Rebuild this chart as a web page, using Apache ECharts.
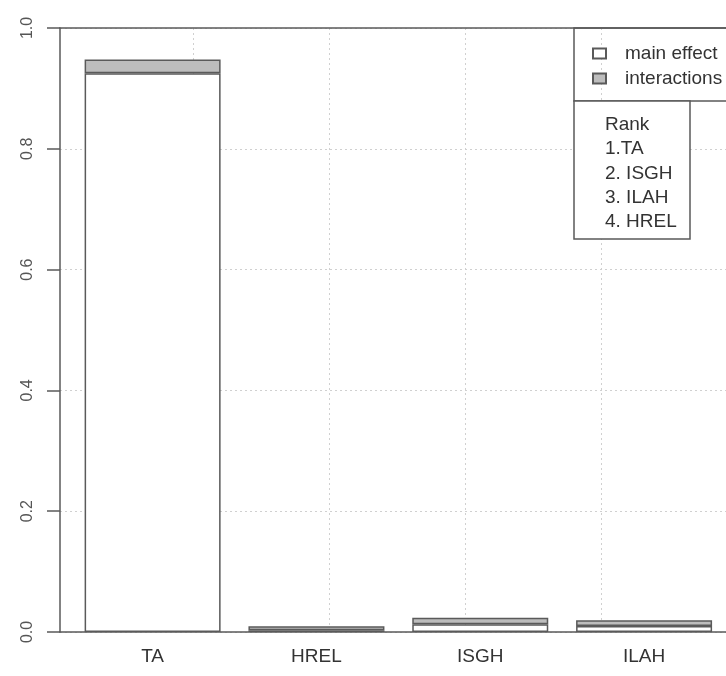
<!DOCTYPE html>
<html>
<head>
<meta charset="utf-8">
<script src="https://cdn.jsdelivr.net/npm/echarts@6/dist/echarts.min.js"></script>
<style>html,body{margin:0;padding:0;background:#fff}#c{width:726px;height:676px}</style>
</head>
<body>
<div id="c"></div>
<script>
const categories = ['TA', 'HREL', 'ISGH', 'ILAH'];
const mainEffect = [0.925, 0.003, 0.013, 0.010];
const interactions = [0.023, 0.0065, 0.0107, 0.0094];
const yTicks = [0, 0.2, 0.4, 0.6, 0.8, 1.0];
const gridXTicks = [1, 2, 3, 4];
const rankLines = ['Rank', '1.TA', '2. ISGH', '3. ILAH', '4. HREL'];
const legendNames = ['main effect', 'interactions'];

const chart = echarts.init(document.getElementById('c'));
const font = 'Liberation Sans, Arial, sans-serif';
const lineCol = '#5a5a5a';
const gridCol = '#d0d0d0';

const rankText = rankLines.map((t, i) => ({
  type: 'text', left: 605, top: 115 + i * 24.4, z: 11,
  style: { text: t, font: '19px ' + font, fill: '#333' }
}));

chart.setOption({
  animation: false,
  grid: [
    { left: 60, right: 0, top: 28, bottom: 44 },
    { left: 70.7, right: 0, top: 28, bottom: 44 }
  ],
  xAxis: [{
    gridIndex: 0, type: 'value', min: 0.022, max: 4.917, position: 'bottom',
    axisLine: { show: true, onZero: false, lineStyle: { color: lineCol, width: 1.5 } },
    axisTick: { show: false, customValues: gridXTicks },
    splitLine: { show: true, lineStyle: { color: gridCol, type: [2, 3], width: 1 } },
    axisLabel: { show: false, customValues: gridXTicks }
  }, {
    gridIndex: 0, type: 'value', min: 0, max: 5, position: 'top',
    axisLine: { show: true, onZero: false, lineStyle: { color: lineCol, width: 1.5 } },
    axisTick: { show: false }, splitLine: { show: false }, axisLabel: { show: false }
  }, {
    gridIndex: 1, type: 'category', data: categories, boundaryGap: true,
    axisLine: { show: false }, axisTick: { show: false }, splitLine: { show: false },
    axisLabel: { margin: 15, fontSize: 19, color: '#333', fontFamily: font }
  }],
  yAxis: [{
    gridIndex: 0, type: 'value', min: 0, max: 1, interval: 0.2,
    axisLine: { show: true, lineStyle: { color: lineCol, width: 1.5 } },
    axisTick: { show: true, length: 13, lineStyle: { color: lineCol, width: 1.5 } },
    splitLine: { show: true, lineStyle: { color: gridCol, type: [2, 3], width: 1 } },
    axisLabel: {
      rotate: 90, margin: 24, fontSize: 16, color: '#555', fontFamily: font,
      formatter: v => v.toFixed(1)
    }
  }, {
    gridIndex: 1, type: 'value', min: 0, max: 1, interval: 0.2, show: false,
    splitLine: { show: false }
  }],
  legend: {
    data: legendNames, orient: 'vertical', left: 587, top: 39,
    icon: 'rect', itemWidth: 13, itemHeight: 10, itemGap: 6,
    textStyle: { fontSize: 19, color: '#333', fontFamily: font, padding: [0, 0, 0, 14] },
    selectedMode: false
  },
  graphic: [
    { type: 'rect', shape: { x: 574, y: 28, width: 200, height: 73 }, style: { fill: 'none', stroke: lineCol, lineWidth: 1.5 }, z: 10 },
    { type: 'rect', shape: { x: 574, y: 101, width: 116, height: 138 }, style: { fill: '#fff', stroke: lineCol, lineWidth: 1.5 }, z: 10 },
    ...rankText
  ],
  series: [{
    name: legendNames[0], type: 'bar', stack: 's', barWidth: 136,
    xAxisIndex: 2, yAxisIndex: 1,
    data: mainEffect,
    itemStyle: { color: '#ffffff', borderColor: lineCol, borderWidth: 1.5 }
  }, {
    name: legendNames[1], type: 'bar', stack: 's', barWidth: 136,
    xAxisIndex: 2, yAxisIndex: 1,
    data: interactions,
    itemStyle: { color: '#bdbdbd', borderColor: lineCol, borderWidth: 1.5 }
  }]
});
</script>
</body>
</html>
